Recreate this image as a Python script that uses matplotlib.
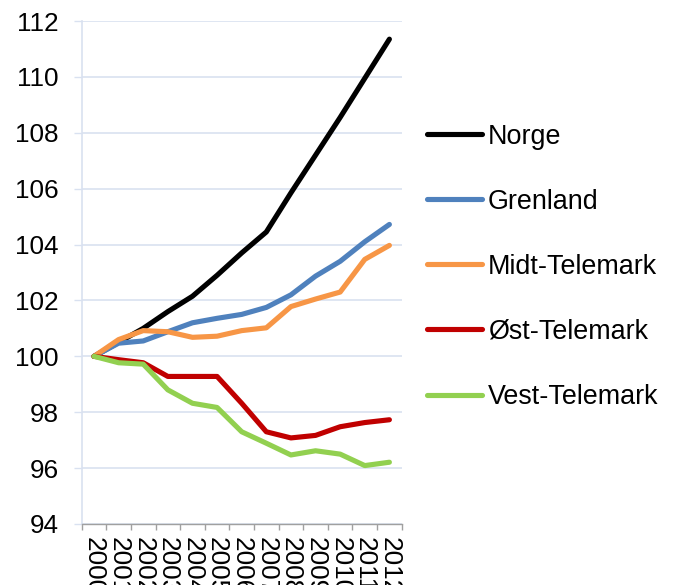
import matplotlib
matplotlib.use("Agg")
from matplotlib import pyplot as plt
from matplotlib.ticker import FixedLocator

years = [2000, 2001, 2002, 2003, 2004, 2005, 2006, 2007, 2008, 2009, 2010, 2011, 2012]

norge = [100.0, 100.5, 101.0, 101.6, 102.15, 102.9, 103.7, 104.45, 105.85, 107.2, 108.55, 109.95, 111.35]
grenland = [100.0, 100.47, 100.55, 100.88, 101.2, 101.36, 101.5, 101.75, 102.2, 102.87, 103.4, 104.1, 104.72]
midt_telemark = [100.0, 100.6, 100.92, 100.88, 100.68, 100.72, 100.92, 101.02, 101.78, 102.05, 102.3, 103.47, 103.97]
ost_telemark = [100.0, 99.88, 99.77, 99.28, 99.28, 99.28, 98.32, 97.3, 97.08, 97.17, 97.48, 97.63, 97.73]
vest_telemark = [100.0, 99.77, 99.72, 98.8, 98.32, 98.17, 97.3, 96.89, 96.47, 96.62, 96.5, 96.09, 96.21]

series = [
    ("Norge", norge, "#000000"),
    ("Grenland", grenland, "#4F81BD"),
    ("Midt-Telemark", midt_telemark, "#F79646"),
    ("Øst-Telemark", ost_telemark, "#C00000"),
    ("Vest-Telemark", vest_telemark, "#92D050"),
]

plt.rcParams["font.family"] = ["Liberation Sans", "DejaVu Sans"]
FS = 18.8
LEG_FS = 19.4
GRID = "#D9E1F0"

fig = plt.figure(figsize=(6.74, 5.85), dpi=100)
ax = fig.add_axes([0.1212, 0.1043, 0.4748, 0.8598])

x = list(range(len(years)))
for name, values, color in series:
    ax.plot(x, values, color=color, linewidth=3.7, label=name, solid_capstyle="round", solid_joinstyle="round")

ax.set_ylim(94, 112)
ax.set_yticks(range(94, 113, 2))
ax.set_xlim(-0.5, len(years) - 0.5)
ax.set_xticks(x)
ax.set_xticklabels([str(y) for y in years], rotation=-90, fontsize=FS, va="top")
ax.xaxis.set_minor_locator(FixedLocator([i - 0.5 for i in range(len(years) + 1)]))

ax.tick_params(axis="x", which="major", length=0, pad=9.4)
ax.tick_params(axis="x", which="minor", length=4, width=1, color="#A0A0A0", direction="out")
ax.tick_params(axis="y", length=5.5, width=1, color=GRID, pad=11, labelsize=FS)

ax.grid(axis="y", color=GRID, linewidth=1.2)
ax.set_axisbelow(True)
for s in ["top", "right"]:
    ax.spines[s].set_visible(False)
ax.spines["left"].set_color(GRID)
ax.spines["left"].set_linewidth(1.2)
ax.spines["bottom"].set_color("#A0A0A0")
ax.spines["bottom"].set_linewidth(1)

fig.legend(
    loc="upper left",
    bbox_to_anchor=(0.6335, 0.7886),
    bbox_transform=fig.transFigure,
    frameon=False,
    fontsize=LEG_FS,
    handlelength=2.05,
    handletextpad=0.2,
    labelspacing=1.45,
    borderpad=0,
    borderaxespad=0,
)

fig.savefig("out.png", dpi=100)
